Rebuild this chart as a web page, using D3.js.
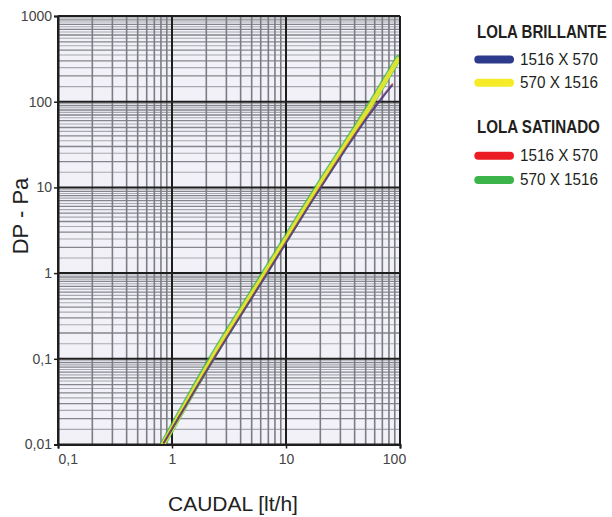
<!DOCTYPE html>
<html><head><meta charset="utf-8">
<script src="https://cdn.jsdelivr.net/npm/d3@7"></script>
<style>
html,body{margin:0;padding:0;background:#fff;}
svg{display:block;}
</style></head>
<body>
<svg id="chart" width="612" height="517"></svg>
<script>
// ---- data ----
const xTickValues = [0.1, 1, 10, 100];
const xTickLabels = ["0,1", "1", "10", "100"];
const yTickValues = [0.01, 0.1, 1, 10, 100, 1000];
const yTickLabels = ["0,01", "0,1", "1", "10", "100", "1000"];

// caudal [lt/h] and DP [Pa]
const brillante1516x570Q  = [0.85, 2.3, 6.7, 19.6, 57, 85];
const brillante1516x570DP = [0.0105, 0.097, 0.95, 9.4, 78, 155];
const brillante570x1516Q  = [0.834, 2.24, 6.54, 19.1, 52.4, 96];
const brillante570x1516DP = [0.0100, 0.100, 1.0, 10, 81, 312];
const satinado1516x570Q   = [0.845, 2.29, 6.68, 19.5, 56.5, 86];
const satinado1516x570DP  = [0.0104, 0.098, 0.96, 9.5, 79, 160];
const satinado570x1516Q   = [0.83, 2.22, 6.5, 19.0, 52, 97];
const satinado570x1516DP  = [0.0100, 0.101, 1.01, 10.1, 82, 325];

const legendGroups = ["LOLA BRILLANTE", "LOLA SATINADO"];
const legendLabels = ["1516 X 570", "570 X 1516", "1516 X 570", "570 X 1516"];
const seriesColors = ["#2e3a8c", "#f5eb28", "#ec1c24", "#3cb44a"];

const xTitle = "CAUDAL [lt/h]";
const yTitle = "DP - Pa";

// ---- layout ----
const svg = d3.select("#chart");
const pL = 58, pR = 400, pT = 16, pB = 444.5;
const x = d3.scaleLog().domain([0.1, 100]).range([pL, pR]);
const y = d3.scaleLog().domain([0.01, 1000]).range([pB, pT]);

svg.append("rect").attr("x", pL).attr("y", pT)
  .attr("width", pR - pL).attr("height", pB - pT)
  .attr("fill", "#f1f1f7");

const grid = svg.append("g");
const xMinor = [], yMinor = [], yHalf = [];
[0.1, 1, 10].forEach(d => { for (let m = 2; m <= 9; m++) xMinor.push(d * m); });
[0.01, 0.1, 1, 10, 100].forEach(d => {
  for (let m = 2; m <= 9; m++) yMinor.push(d * m);
  for (let m = 1.5; m < 10; m += 1) yHalf.push(d * m);
});

grid.selectAll("line.yh").data(yHalf).join("line").attr("class", "yh")
  .attr("x1", pL).attr("x2", pR)
  .attr("y1", d => y(d)).attr("y2", d => y(d))
  .attr("stroke", "#a8a8b0").attr("stroke-width", 1.1);
grid.selectAll("line.ym").data(yMinor).join("line").attr("class", "ym")
  .attr("x1", pL).attr("x2", pR)
  .attr("y1", d => y(d)).attr("y2", d => y(d))
  .attr("stroke", "#85858d").attr("stroke-width", 1.3);
grid.selectAll("line.xm").data(xMinor).join("line").attr("class", "xm")
  .attr("y1", pT).attr("y2", pB)
  .attr("x1", d => x(d)).attr("x2", d => x(d))
  .attr("stroke", "#7c7c84").attr("stroke-width", 1.6);

// major grid
const major = svg.append("g");
major.selectAll("line.yM").data(yTickValues).join("line").attr("class", "yM")
  .attr("x1", pL).attr("x2", pR)
  .attr("y1", d => y(d)).attr("y2", d => y(d))
  .attr("stroke", "#1e1e1e").attr("stroke-width", 2);
major.selectAll("line.xM").data(xTickValues).join("line").attr("class", "xM")
  .attr("y1", pT).attr("y2", pB)
  .attr("x1", d => x(d)).attr("x2", d => x(d))
  .attr("stroke", "#1e1e1e").attr("stroke-width", 2);

// series
const series = [
  {q: satinado570x1516Q, p: satinado570x1516DP, c: seriesColors[3], w: 6.5, o: 0.75},
  {q: brillante570x1516Q, p: brillante570x1516DP, c: seriesColors[1], w: 4.5, o: 0.85},
  {q: satinado1516x570Q, p: satinado1516x570DP, c: seriesColors[2], w: 2.2, o: 0.5},
  {q: brillante1516x570Q, p: brillante1516x570DP, c: seriesColors[0], w: 2, o: 0.75}
];
svg.append("clipPath").attr("id", "clip").append("rect")
  .attr("x", pL).attr("y", pT).attr("width", pR - pL).attr("height", pB - pT);
const lineGen = d3.line().x(d => x(d[0])).y(d => y(d[1])).curve(d3.curveMonotoneX);
const lines = svg.append("g").attr("clip-path", "url(#clip)");
series.forEach(s => {
  lines.append("path")
    .datum(s.q.map((q, i) => [q, s.p[i]]))
    .attr("d", lineGen)
    .attr("fill", "none").attr("stroke", s.c)
    .attr("stroke-width", s.w).attr("stroke-opacity", s.o)
    .attr("stroke-linecap", "round");
});

// axes
const yAxis = d3.axisLeft(y).tickValues(yTickValues)
  .tickFormat((d, i) => yTickLabels[i]).tickSize(4).tickPadding(2);
const gy = svg.append("g").attr("transform", `translate(${pL},0)`).call(yAxis);
gy.select(".domain").attr("stroke", "#1e1e1e").attr("stroke-width", 2);
gy.selectAll(".tick line").attr("stroke", "#1e1e1e").attr("stroke-width", 1.5);
gy.selectAll(".tick text").attr("fill", "#444").attr("font-size", 14)
  .attr("font-family", "Liberation Sans, Arial, sans-serif");

const xAxis = d3.axisBottom(x).tickValues(xTickValues)
  .tickFormat((d, i) => xTickLabels[i]).tickSize(4).tickPadding(6);
const gx = svg.append("g").attr("transform", `translate(0,${pB})`).call(xAxis);
gx.select(".domain").attr("stroke", "#1e1e1e").attr("stroke-width", 2);
gx.selectAll(".tick line").attr("stroke", "#1e1e1e").attr("stroke-width", 1.5);
gx.selectAll(".tick text").attr("fill", "#444").attr("font-size", 14)
  .attr("font-family", "Liberation Sans, Arial, sans-serif");
gx.selectAll(".tick text").filter((d, i) => i === 0).attr("text-anchor", "start").attr("x", 0);
gx.selectAll(".tick text").filter((d, i) => i === 3).attr("x", -6);

// frame (top and right)
svg.append("line").attr("x1", pL).attr("x2", pR).attr("y1", pT).attr("y2", pT)
  .attr("stroke", "#1e1e1e").attr("stroke-width", 2);
svg.append("line").attr("x1", pR).attr("x2", pR).attr("y1", pT).attr("y2", pB)
  .attr("stroke", "#1e1e1e").attr("stroke-width", 2);

// titles
svg.append("text").attr("x", 233).attr("y", 511).attr("text-anchor", "middle")
  .attr("font-family", "Liberation Sans, Arial, sans-serif").attr("font-size", 21)
  .attr("fill", "#222").text(xTitle);
svg.append("text").attr("transform", "translate(28,216) rotate(-90)")
  .attr("text-anchor", "middle")
  .attr("font-family", "Liberation Sans, Arial, sans-serif").attr("font-size", 22)
  .attr("fill", "#222").text(yTitle);

// legend (condensed look via horizontal scaling to the reference widths)
const lg = svg.append("g").attr("font-family", "'Liberation Sans Narrow', 'Arial Narrow', 'Liberation Sans', sans-serif")
  .attr("fill", "#231f20");
function fitText(sel, px, py, target) {
  const w = sel.node().getComputedTextLength();
  const s = w > 0 ? Math.min(1, target / w) : 1;
  sel.attr("transform", `translate(${px},${py}) scale(${s},1)`);
}
const headerY = [37.7, 132.7];
const headerW = [130, 123];
legendGroups.forEach((g, i) => {
  const t = lg.append("text").attr("x", 0).attr("y", 0)
    .attr("font-size", 18).attr("font-weight", "bold").text(g);
  fitText(t, 477, headerY[i], headerW[i]);
});
const swatchY = [59.5, 82.7, 155.7, 180];
legendLabels.forEach((l, i) => {
  lg.append("line").attr("x1", 478.3).attr("x2", 510)
    .attr("y1", swatchY[i]).attr("y2", swatchY[i])
    .attr("stroke", seriesColors[i]).attr("stroke-width", 8).attr("stroke-linecap", "round");
  const t = lg.append("text").attr("x", 0).attr("y", 0)
    .attr("font-size", 16.3).text(l);
  fitText(t, 520, swatchY[i] + 5.3, 78);
});
</script>
</body></html>
